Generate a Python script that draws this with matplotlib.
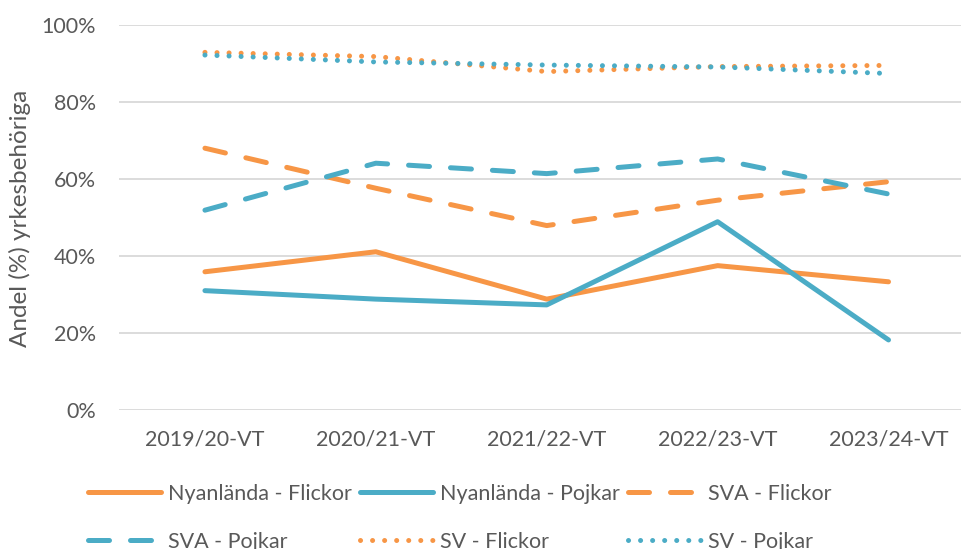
import matplotlib
matplotlib.use("Agg")
import matplotlib.pyplot as plt

plt.rcParams['font.family'] = ['Lato', 'DejaVu Sans']

# categories (school years)
years = ["2019/20-VT", "2020/21-VT", "2021/22-VT", "2022/23-VT", "2023/24-VT"]

# share of students eligible (%)
nyan_flickor = [35.9, 41.1, 28.8, 37.5, 33.3]
nyan_pojkar = [31.0, 28.8, 27.3, 48.9, 18.2]
sva_flickor = [68.0, 57.6, 47.9, 54.5, 59.3]
sva_pojkar = [51.9, 64.1, 61.4, 65.2, 56.1]
sv_flickor = [92.9, 91.8, 87.9, 89.2, 89.5]
sv_pojkar = [92.2, 90.4, 89.6, 89.1, 87.4]

orange = "#F79646"
blue = "#4BACC6"
txt = "#595959"
fs = 15.5

fig = plt.figure(figsize=(9.62, 5.49), dpi=100)
ax = fig.add_axes([119.5/962, (549-410)/549, 1 - 119.5/962, 385/549])

x = list(range(len(years)))
lw = 3.6
dash = (0, (4.2, 4.2))
dot = (0, (0.01, 2.4))

series = [
    (nyan_flickor, orange, "-", "Nyanlända - Flickor"),
    (nyan_pojkar, blue, "-", "Nyanlända - Pojkar"),
    (sva_flickor, orange, dash, "SVA - Flickor"),
    (sva_pojkar, blue, dash, "SVA - Pojkar"),
    (sv_flickor, orange, dot, "SV - Flickor"),
    (sv_pojkar, blue, dot, "SV - Pojkar"),
]

lines = {}
for vals, col, ls, lab in series:
    ln, = ax.plot(x, [v / 100 for v in vals], color=col, lw=lw, ls=ls, label=lab,
                  dash_capstyle='round', solid_capstyle='round', solid_joinstyle='round')
    lines[lab] = ln

ax.set_xlim(-0.5, 4.43)
ax.set_ylim(0, 1.0)
ax.set_yticks([0, 0.2, 0.4, 0.6, 0.8, 1.0])
ax.set_yticklabels(["0%", "20%", "40%", "60%", "80%", "100%"])
ax.set_xticks(x)
ax.set_xticklabels(years)
ax.yaxis.grid(True, color="#d9d9d9", lw=1.3)
ax.set_axisbelow(True)
for s in ax.spines.values():
    s.set_visible(False)
ax.tick_params(axis='both', length=0, labelsize=fs, colors=txt)
ax.tick_params(axis='y', pad=17)
ax.tick_params(axis='x', pad=14)

fig.text(20/962, (549-218)/549, "Andel (%) yrkesbehöriga", rotation=90,
         ha='center', va='center', fontsize=17.5, color=txt)

order = ["Nyanlända - Flickor", "SVA - Pojkar", "Nyanlända - Pojkar",
         "SV - Flickor", "SVA - Flickor", "SV - Pojkar"]
leg = fig.legend([lines[k] for k in order], order, ncol=3, loc='upper left',
                 bbox_to_anchor=(88/962, (549-484)/549), frameon=False,
                 fontsize=fs, handlelength=3.4, handletextpad=0.3,
                 columnspacing=0.4, labelspacing=1.3, borderpad=0, borderaxespad=0)
for t in leg.get_texts():
    t.set_color(txt)

fig.savefig("out.png", dpi=100)
